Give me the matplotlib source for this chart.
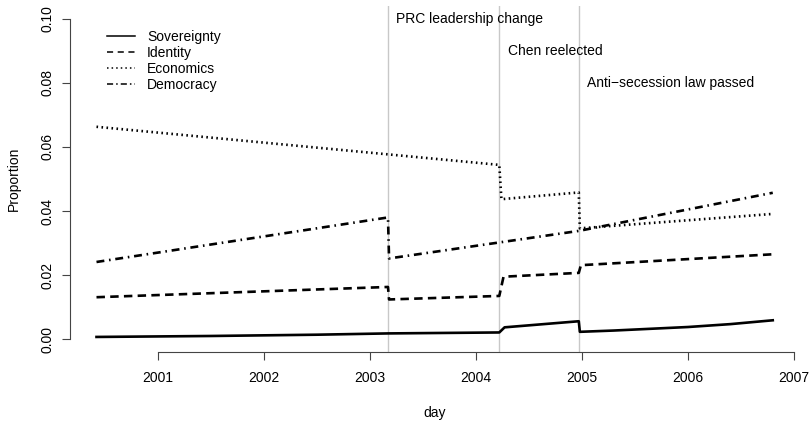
import matplotlib
matplotlib.use("Agg")
from matplotlib import pyplot as plt
from matplotlib.lines import Line2D

plt.rcParams["font.family"] = ["Liberation Sans", "DejaVu Sans"]
plt.rcParams["font.size"] = 10

# breakpoints (decimal year, proportion)
sov_x = [2000.42, 2001.5, 2002.5, 2003.17, 2004.22, 2004.27, 2004.97, 2004.98, 2005.3, 2006.0, 2006.4, 2006.8]
sov_y = [0.0007, 0.0010, 0.0014, 0.0018, 0.0021, 0.0037, 0.0056, 0.0023, 0.0027, 0.0038, 0.0047, 0.0059]

ident_x = [2000.42, 2003.17, 2003.18, 2004.22, 2004.26, 2004.97, 2004.99, 2006.8]
ident_y = [0.0131, 0.0163, 0.0124, 0.0135, 0.0195, 0.0207, 0.0231, 0.0265]

econ_x = [2000.42, 2004.22, 2004.24, 2004.97, 2004.98, 2006.8]
econ_y = [0.0663, 0.0544, 0.0437, 0.0458, 0.0346, 0.0391]

demo_x = [2000.42, 2003.17, 2003.18, 2004.97, 2006.8]
demo_y = [0.0241, 0.0380, 0.0252, 0.0338, 0.0457]

event_x = [2003.17, 2004.22, 2004.97]
event_labels = ["PRC leadership change", "Chen reelected", "Anti\u2212secession law passed"]
event_label_y = [0.100, 0.090, 0.080]

series_names = ["Sovereignty", "Identity", "Economics", "Democracy"]
styles = ["-", (0, (3.2, 2.0)), (0, (0.6, 1.3)), (0, (3.0, 1.8, 0.6, 1.8))]

fig = plt.figure(figsize=(8.1, 4.22), dpi=100)
ax = fig.add_axes([70/810, 1 - 352/422, 730/810, 346/422])

for xs, ys, ls in zip([sov_x, ident_x, econ_x, demo_x],
                      [sov_y, ident_y, econ_y, demo_y], styles):
    ax.plot(xs, ys, color="black", lw=1.9, linestyle=ls)

for ex, lab, ly in zip(event_x, event_labels, event_label_y):
    ax.axvline(ex, color="#c8c8c8", lw=1.0, zorder=0)
    ax.text(ex + 0.08, ly, lab, ha="left", va="center")

ax.set_xlim(2000.170, 2007.057)
ax.set_ylim(-0.004, 0.104)
ax.set_xticks(range(2001, 2008))
ax.set_yticks([0.00, 0.02, 0.04, 0.06, 0.08, 0.10])
ax.set_yticklabels(["0.00", "0.02", "0.04", "0.06", "0.08", "0.10"], rotation=90, va="center")

for s in ["top", "right"]:
    ax.spines[s].set_visible(False)
ax.spines["left"].set_bounds(0, 0.1)
ax.spines["bottom"].set_bounds(2001, 2007)
for s in ["left", "bottom"]:
    ax.spines[s].set_color("#444444")
ax.tick_params(length=6, color="#444444", direction="out")
ax.tick_params(axis="x", pad=8)
ax.tick_params(axis="y", pad=5)

ax.set_xlabel("day", labelpad=15)
ax.set_ylabel("Proportion", labelpad=14)

handles = [Line2D([0], [0], color="black", lw=1.1, linestyle=ls) for ls in
           ["-", (0, (4, 3)), (0, (1, 2)), (0, (4, 2, 1, 2))]]
ax.legend(handles, series_names, loc="upper left", frameon=False,
          bbox_to_anchor=(100/810, 1 - 23/422), bbox_transform=fig.transFigure,
          handlelength=2.0, handletextpad=0.9, labelspacing=0.15, borderpad=0)

fig.savefig("out.png", dpi=100)
